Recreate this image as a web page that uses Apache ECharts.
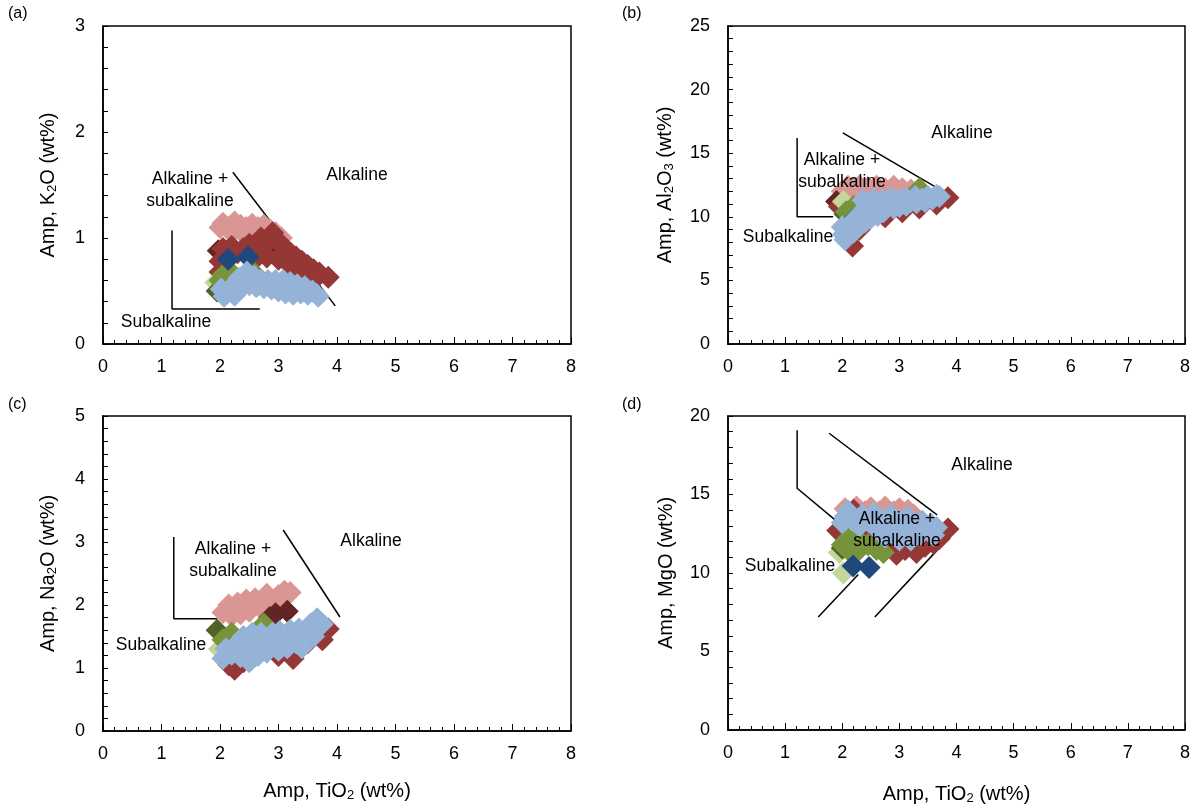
<!DOCTYPE html>
<html>
<head>
<meta charset="utf-8">
<script src="https://cdn.jsdelivr.net/npm/echarts@6/dist/echarts.min.js"></script>
<style>
  html, body { margin: 0; padding: 0; background: #fff; }
  #chart { width: 1198px; height: 806px; }
</style>
</head>
<body>
<div id="chart"></div>
<script>
// [TiO2, oxide] pairs, one array per group and panel
// (a) K2O
const pinkA = [[2.0, 1.1], [2.05, 1.14], [2.15, 1.1], [2.25, 1.15], [2.35, 1.12], [2.45, 1.1], [2.55, 1.13], [2.65, 1.1], [2.75, 1.12], [2.85, 1.08], [2.95, 1.05], [3.05, 1.0], [2.2, 1.05], [2.4, 1.04]]
const maroonA = [[1.97, 0.88], [2.95, 0.95]]
const redA = [[2.0, 0.78], [2.0, 0.68], [2.05, 0.9], [2.2, 0.92], [2.3, 0.86], [2.4, 0.9], [2.5, 0.94], [2.6, 0.9], [2.7, 1.0], [2.8, 0.95], [2.9, 1.05], [3.0, 0.97], [3.1, 0.9], [3.2, 0.86], [3.3, 0.82], [3.4, 0.78], [3.5, 0.74], [3.6, 0.7], [3.7, 0.67], [3.85, 0.63], [2.6, 0.8], [2.8, 0.82], [3.0, 0.8], [3.2, 0.74], [3.4, 0.68], [3.6, 0.6]]
const lgreenA = [[1.93, 0.58]]
const dgreenA = [[1.95, 0.5]]
const greenA = [[2.0, 0.6], [2.05, 0.65], [2.2, 0.67], [2.6, 0.66]]
const dblueA = [[2.14, 0.8], [2.48, 0.82]]
const blueA = [[2.02, 0.52], [2.07, 0.45], [2.15, 0.5], [2.22, 0.55], [2.25, 0.46], [2.32, 0.62], [2.38, 0.54], [2.46, 0.68], [2.5, 0.56], [2.58, 0.64], [2.62, 0.54], [2.7, 0.6], [2.75, 0.53], [2.82, 0.6], [2.88, 0.52], [2.95, 0.6], [3.0, 0.5], [3.08, 0.6], [3.12, 0.48], [3.2, 0.58], [3.25, 0.47], [3.32, 0.56], [3.38, 0.48], [3.45, 0.54], [3.5, 0.47], [3.58, 0.5], [3.65, 0.47], [3.68, 0.45]]

// (b) Al2O3
const pinkB = [[2.0, 12.0], [2.1, 12.4], [2.2, 12.2], [2.3, 12.4], [2.45, 12.3], [2.6, 12.4], [2.75, 12.2], [2.9, 12.4], [3.05, 12.2], [3.2, 12.1], [2.05, 11.6], [2.25, 11.8]]
const maroonB = [[1.9, 11.2]]
const redB = [[1.95, 10.8], [2.18, 7.7], [2.3, 9.0], [2.75, 10.0], [3.05, 10.4], [3.35, 10.7], [3.65, 11.0], [3.6, 11.3], [3.85, 11.5]]
const lgreenB = [[2.02, 11.2]]
const dgreenB = [[2.05, 10.2]]
const greenB = [[2.07, 10.4], [2.2, 10.8], [2.15, 10.0], [3.35, 12.2]]
const dblueB = [[2.2, 9.8], [2.45, 10.2]]
const blueB = [[2.0, 9.2], [2.02, 8.6], [2.05, 8.2], [2.12, 9.4], [2.2, 8.8], [2.22, 9.8], [2.3, 9.3], [2.32, 10.3], [2.36, 11.3], [2.4, 9.6], [2.45, 10.6], [2.5, 9.9], [2.55, 11.4], [2.58, 10.8], [2.62, 10.1], [2.7, 11.3], [2.72, 10.4], [2.8, 10.9], [2.85, 11.5], [2.9, 10.7], [2.98, 11.3], [3.0, 10.8], [3.1, 11.5], [3.12, 10.9], [3.2, 11.2], [3.28, 11.6], [3.3, 11.1], [3.4, 11.4], [3.45, 11.2], [3.5, 11.6], [3.58, 11.4], [3.65, 11.7], [3.7, 11.6]]

// (c) Na2O
const pinkC = [[2.05, 1.88], [2.15, 2.0], [2.2, 1.83], [2.3, 2.03], [2.35, 1.86], [2.45, 2.08], [2.5, 1.9], [2.6, 2.1], [2.7, 1.95], [2.8, 2.17], [2.9, 2.0], [3.0, 2.15], [3.05, 1.98], [3.1, 2.22], [3.2, 2.2]]
const maroonC = [[2.85, 1.8], [2.95, 1.86], [3.15, 1.9]]
const redC = [[2.0, 1.3], [2.1, 1.2], [2.15, 1.05], [2.25, 0.98], [2.4, 1.1], [2.6, 1.2], [2.8, 1.3], [3.0, 1.2], [3.25, 1.15], [3.3, 1.3], [3.5, 1.4], [3.7, 1.5], [3.75, 1.45], [3.85, 1.62]]
const lgreenC = [[2.0, 1.3]]
const dgreenC = [[1.95, 1.6]]
const greenC = [[2.05, 1.45], [2.2, 1.55], [2.3, 1.45], [2.75, 1.7]]
const dblueC = [[2.2, 1.3], [2.45, 1.35]]
const blueC = [[2.05, 1.15], [2.1, 1.3], [2.2, 1.22], [2.3, 1.4], [2.35, 1.18], [2.4, 1.5], [2.45, 1.3], [2.5, 1.1], [2.55, 1.55], [2.6, 1.35], [2.65, 1.2], [2.7, 1.55], [2.75, 1.35], [2.8, 1.25], [2.9, 1.55], [2.92, 1.38], [3.0, 1.28], [3.02, 1.58], [3.1, 1.45], [3.15, 1.32], [3.2, 1.6], [3.3, 1.4], [3.35, 1.62], [3.4, 1.32], [3.45, 1.5], [3.55, 1.7], [3.6, 1.5], [3.66, 1.78], [3.75, 1.7]]

// (d) MgO
const pinkD = [[2.05, 14.1], [2.15, 13.8], [2.25, 14.2], [2.4, 13.9], [2.5, 14.15], [2.65, 13.9], [2.75, 14.2], [2.9, 13.9], [3.0, 14.1], [3.15, 14.0], [3.25, 13.7]]
const maroonD = [[2.0, 12.5]]
const redD = [[1.92, 12.7], [2.2, 14.0], [2.5, 12.5], [2.65, 11.6], [2.8, 11.8], [2.95, 11.2], [3.1, 11.5], [3.3, 11.3], [3.45, 11.7], [3.55, 12.3], [3.6, 11.9], [3.7, 12.2], [3.85, 12.8]]
const lgreenD = [[1.95, 11.3], [2.02, 10.0]]
const dgreenD = [[2.0, 11.6]]
const greenD = [[2.0, 11.8], [2.1, 12.2], [2.15, 11.3], [2.25, 12.25], [2.3, 11.5], [2.45, 11.8], [2.6, 11.5], [2.72, 11.3]]
const dblueD = [[2.19, 10.45], [2.47, 10.35]]
const blueD = [[2.0, 13.2], [2.05, 13.6], [2.1, 13.95], [2.2, 13.3], [2.3, 13.0], [2.35, 13.7], [2.45, 13.3], [2.55, 13.8], [2.6, 12.8], [2.7, 13.4], [2.75, 12.3], [2.85, 13.7], [2.9, 12.8], [3.0, 12.1], [3.02, 13.3], [3.1, 12.7], [3.15, 13.6], [3.2, 12.1], [3.3, 13.0], [3.35, 12.4], [3.4, 13.3], [3.5, 12.7], [3.55, 13.1], [3.6, 12.4], [3.65, 12.9]]

// field boundaries, in data units
const lineA1 = [[2.22, 1.62], [3.97, 0.36]]
const lineA2 = [[1.18, 1.07], [1.18, 0.33], [2.68, 0.33]]
const lineB1 = [[2.01, 16.6], [3.63, 12.35]]
const lineB2 = [[1.21, 16.2], [1.21, 10.0], [1.84, 10.0]]
const lineC1 = [[3.08, 3.19], [4.05, 1.81]]
const lineC2 = [[1.21, 3.08], [1.21, 1.78], [1.95, 1.78]]
const lineD1 = [[1.21, 19.1], [1.21, 15.4], [1.9, 13.3]]
const lineD2 = [[1.77, 18.9], [3.66, 13.7]]
const lineD3 = [[1.58, 7.2], [2.28, 9.9]]
const lineD4 = [[2.57, 7.2], [3.7, 11.6]]

const FONT = 'Liberation Sans, Arial, sans-serif'

// drawing order = Excel series order (light blue on top)
const colors = ['#d99694', '#632523', '#953735', '#c3d69b', '#4f6228', '#77933c', '#1f497d', '#95b3d7']
const panels = [
  [pinkA, maroonA, redA, lgreenA, dgreenA, greenA, dblueA, blueA],
  [pinkB, maroonB, redB, lgreenB, dgreenB, greenB, dblueB, blueB],
  [pinkC, maroonC, redC, lgreenC, dgreenC, greenC, dblueC, blueC],
  [pinkD, maroonD, redD, lgreenD, dgreenD, greenD, dblueD, blueD]
]

const boundaries = [
  [lineA1, lineA2],
  [lineB1, lineB2],
  [lineC1, lineC2],
  [lineD1, lineD2, lineD3, lineD4]
]

const grids = [
  { left: 103, top: 26, width: 468, height: 318 },
  { left: 728, top: 26, width: 457, height: 318 },
  { left: 103, top: 416, width: 468, height: 315 },
  { left: 728, top: 416, width: 457, height: 315 }
]

const yCfg = [
  { name: 'Amp, K{s|2}O (wt%)', max: 3, interval: 1, gap: 44 },
  { name: 'Amp, Al{s|2}O{s|3} (wt%)', max: 25, interval: 5, gap: 52 },
  { name: 'Amp, Na{s|2}O (wt%)', max: 5, interval: 1, gap: 44 },
  { name: 'Amp, MgO (wt%)', max: 20, interval: 5, gap: 52 }
]

const richSub = {
  s: { fontSize: 13, fontFamily: FONT, color: '#000', padding: [9, 0, 0, 0] }
}

const xAxis = grids.map((g, i) => ({
  gridIndex: i,
  type: 'value',
  min: 0,
  max: 8,
  interval: 1,
  name: i >= 2 ? 'Amp, TiO{s|2} (wt%)' : '',
  nameLocation: 'middle',
  nameGap: i === 3 ? 53 : 49,
  nameTextStyle: { fontSize: 20, fontFamily: FONT, color: '#000', rich: richSub },
  axisLine: { onZero: false, lineStyle: { color: '#000', width: 1.5 } },
  axisTick: { inside: true, length: 7, lineStyle: { color: '#000', width: 1 } },
  minorTick: { show: true, splitNumber: 5, length: 4, lineStyle: { color: '#000', width: 1 } },
  axisLabel: { fontSize: 18, fontFamily: FONT, color: '#000', margin: 14 },
  splitLine: { show: false }
}))

const yAxis = yCfg.map((c, i) => ({
  gridIndex: i,
  type: 'value',
  min: 0,
  max: c.max,
  interval: c.interval,
  name: c.name,
  nameLocation: 'middle',
  nameGap: c.gap,
  nameRotate: 90,
  nameTextStyle: { fontSize: 20, fontFamily: FONT, color: '#000', rich: richSub },
  axisLine: { onZero: false, lineStyle: { color: '#000', width: 1.5 } },
  axisTick: { inside: true, length: 5, lineStyle: { color: '#000', width: 1 } },
  minorTick: { show: true, splitNumber: 5, length: 5, lineStyle: { color: '#000', width: 1 } },
  axisLabel: { fontSize: 18, fontFamily: FONT, color: '#000', margin: 18 },
  splitLine: { show: false }
}))

const series = []
boundaries.forEach((lines, p) => {
  lines.forEach(l => {
    series.push({
      type: 'line',
      xAxisIndex: p,
      yAxisIndex: p,
      data: l,
      symbol: 'none',
      silent: true,
      z: 1,
      lineStyle: { color: '#000', width: 1.5 }
    })
  })
})
panels.forEach((groups, p) => {
  groups.forEach((data, k) => {
    series.push({
      type: 'scatter',
      xAxisIndex: p,
      yAxisIndex: p,
      data: data,
      symbol: 'diamond',
      symbolSize: 23,
      silent: true,
      z: 2,
      itemStyle: { color: colors[k], opacity: 1 }
    })
  })
})

function txt(x, y, text, size, align) {
  return {
    type: 'text',
    x: x,
    y: y,
    z: 100,
    style: {
      text: text,
      font: (size || 17.5) + 'px ' + FONT,
      fill: '#000',
      align: align || 'center',
      verticalAlign: 'middle',
      lineHeight: 22
    }
  }
}

const graphics = [
  txt(8, 14, '(a)', 16, 'left'),
  txt(622, 14, '(b)', 16, 'left'),
  txt(8, 405, '(c)', 16, 'left'),
  txt(622, 405, '(d)', 16, 'left'),

  txt(357, 175, 'Alkaline'),
  txt(190, 190, 'Alkaline +\nsubalkaline'),
  txt(166, 322, 'Subalkaline'),

  txt(962, 133, 'Alkaline'),
  txt(842, 171, 'Alkaline +\nsubalkaline'),
  txt(788, 237, 'Subalkaline'),

  txt(371, 541, 'Alkaline'),
  txt(233, 560, 'Alkaline +\nsubalkaline'),
  txt(161, 645, 'Subalkaline'),

  txt(982, 465, 'Alkaline'),
  txt(897, 530, 'Alkaline +\nsubalkaline'),
  txt(790, 566, 'Subalkaline')
]

const chart = echarts.init(document.getElementById('chart'))
chart.setOption({
  animation: false,
  backgroundColor: '#fff',
  grid: grids.map(g => Object.assign({ show: true, borderColor: '#000', borderWidth: 1.5 }, g)),
  xAxis: xAxis,
  yAxis: yAxis,
  series: series,
  graphic: graphics
})
</script>
</body>
</html>
